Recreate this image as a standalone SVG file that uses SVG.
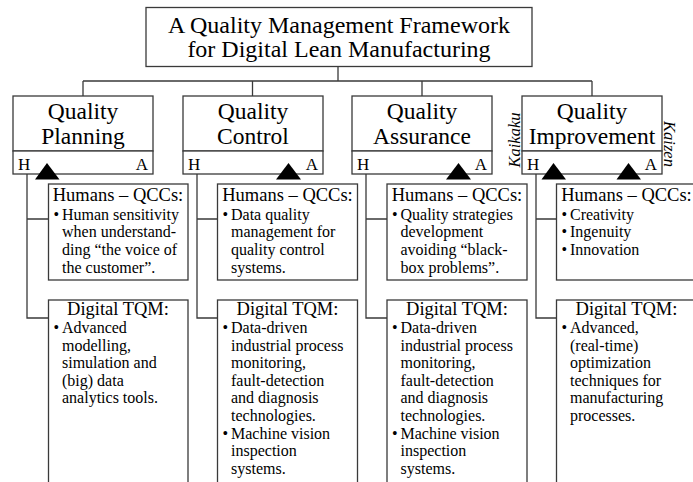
<svg xmlns="http://www.w3.org/2000/svg" width="693" height="482" viewBox="0 0 693 482">
<style>
  text { font-family: "Liberation Serif", "Times New Roman", serif; fill: #000; }
  .box { fill: #fff; stroke: #3a3a3a; stroke-width: 1.3; }
  .line { fill: none; stroke: #3a3a3a; stroke-width: 1.3; }
  .title { font-size: 24px; text-anchor: middle; }
  .pillar { font-size: 23.5px; text-anchor: middle; }
  .ha { font-size: 17px; }
  .hdr { font-size: 18.5px; text-anchor: middle; }
  .txt { font-size: 16px; }
  .it { font-size: 16.5px; font-style: italic; text-anchor: middle; }
  .tri { fill: #000; }
</style>

<g id="connectors">
  <path class="line" d="M338 67 V81 M83 81 H592 M83 81 V96 M252.5 81 V96 M422 81 V96 M592 81 V96"/>
  <path class="line" d="M27 174 V318 H48.5 M27 219 H48.5"/>
  <path class="line" d="M197 174 V318 H217.5 M197 219 H217.5"/>
  <path class="line" d="M366 174 V318 H387 M366 219 H387"/>
  <path class="line" d="M536 174 V318 H556.5 M536 219 H556.5"/>
</g>

<g id="title">
  <rect class="box" x="146" y="7.5" width="386" height="59"/>
  <text class="title" x="339" y="33">A Quality Management Framework</text>
  <text class="title" x="339" y="57">for Digital Lean Manufacturing</text>
</g>

<g id="planning">
  <rect class="box" x="13" y="96" width="140" height="55"/>
  <rect class="box" x="13" y="151" width="140" height="23"/>
  <text class="pillar" x="83" y="118.5">Quality</text>
  <text class="pillar" x="83" y="143.5">Planning</text>
  <text class="ha" x="18" y="170">H</text>
  <text class="ha" x="148" y="170" text-anchor="end">A</text>
  <polygon class="tri" points="47,163 35,179.5 59.5,179.5"/>
</g>

<g id="control">
  <rect class="box" x="183" y="96" width="140" height="55"/>
  <rect class="box" x="183" y="151" width="140" height="23"/>
  <text class="pillar" x="253" y="118.5">Quality</text>
  <text class="pillar" x="253" y="143.5">Control</text>
  <text class="ha" x="188" y="170">H</text>
  <text class="ha" x="318" y="170" text-anchor="end">A</text>
  <polygon class="tri" points="288.5,163 276,179.5 301,179.5"/>
</g>

<g id="assurance">
  <rect class="box" x="352" y="96" width="140" height="55"/>
  <rect class="box" x="352" y="151" width="140" height="23"/>
  <text class="pillar" x="422" y="118.5">Quality</text>
  <text class="pillar" x="422" y="143.5">Assurance</text>
  <text class="ha" x="357" y="170">H</text>
  <text class="ha" x="487" y="170" text-anchor="end">A</text>
  <polygon class="tri" points="458.5,163 446,179.5 471,179.5"/>
</g>

<g id="improvement">
  <rect class="box" x="522" y="96" width="140" height="55"/>
  <rect class="box" x="522" y="151" width="140" height="23"/>
  <text class="pillar" x="592" y="118.5">Quality</text>
  <text class="pillar" x="592" y="143.5">Improvement</text>
  <text class="ha" x="527" y="170">H</text>
  <text class="ha" x="657" y="170" text-anchor="end">A</text>
  <polygon class="tri" points="553.5,163 541.5,179.5 566,179.5"/>
  <polygon class="tri" points="628.5,163 616.5,179.5 641,179.5"/>
  <text class="it" transform="translate(520,140) rotate(-90)">Kaikaku</text>
  <text class="it" transform="translate(664,144) rotate(90)">Kaizen</text>
</g>

<g id="planning-humans">
  <rect class="box" x="48.5" y="184" width="139.5" height="96"/>
  <text class="hdr" x="118" y="201">Humans – QCCs:</text>
  <text class="txt" x="53.5" y="219.5">•</text>
  <text class="txt" x="62"><tspan x="62" y="219.5">Human sensitivity</tspan><tspan x="62" y="237.2">when understand-</tspan><tspan x="62" y="254.9">ding “the voice of</tspan><tspan x="62" y="272.6">the customer”.</tspan></text>
</g>

<g id="control-humans">
  <rect class="box" x="217.5" y="184" width="140" height="96"/>
  <text class="hdr" x="287.5" y="201">Humans – QCCs:</text>
  <text class="txt" x="222.5" y="219.5">•</text>
  <text class="txt" x="231"><tspan x="231" y="219.5">Data quality</tspan><tspan x="231" y="237.2">management for</tspan><tspan x="231" y="254.9">quality control</tspan><tspan x="231" y="272.6">systems.</tspan></text>
</g>

<g id="assurance-humans">
  <rect class="box" x="387" y="184" width="140" height="96"/>
  <text class="hdr" x="457" y="201">Humans – QCCs:</text>
  <text class="txt" x="392" y="219.5">•</text>
  <text class="txt" x="400.5"><tspan x="400.5" y="219.5">Quality strategies</tspan><tspan x="400.5" y="237.2">development</tspan><tspan x="400.5" y="254.9">avoiding “black-</tspan><tspan x="400.5" y="272.6">box problems”.</tspan></text>
</g>

<g id="improvement-humans">
  <rect class="box" x="556.5" y="184" width="140" height="96"/>
  <text class="hdr" x="626.5" y="201">Humans – QCCs:</text>
  <text class="txt" x="561.5" y="219.5">•</text>
  <text class="txt" x="570" y="219.5">Creativity</text>
  <text class="txt" x="561.5" y="237.2">•</text>
  <text class="txt" x="570" y="237.2">Ingenuity</text>
  <text class="txt" x="561.5" y="254.9">•</text>
  <text class="txt" x="570" y="254.9">Innovation</text>
</g>

<g id="planning-tqm">
  <rect class="box" x="48.5" y="300" width="139.5" height="200"/>
  <text class="hdr" x="118" y="314.5">Digital TQM:</text>
  <text class="txt" x="53.5" y="333">•</text>
  <text class="txt" x="62"><tspan x="62" y="333">Advanced</tspan><tspan x="62" y="350.6">modelling,</tspan><tspan x="62" y="368.2">simulation and</tspan><tspan x="62" y="385.8">(big) data</tspan><tspan x="62" y="403.4">analytics tools.</tspan></text>
</g>

<g id="control-tqm">
  <rect class="box" x="217.5" y="300" width="140" height="200"/>
  <text class="hdr" x="287.5" y="314.5">Digital TQM:</text>
  <text class="txt" x="222.5" y="333">•</text>
  <text class="txt" x="222.5" y="438.6">•</text>
  <text class="txt" x="231"><tspan x="231" y="333">Data-driven</tspan><tspan x="231" y="350.6">industrial process</tspan><tspan x="231" y="368.2">monitoring,</tspan><tspan x="231" y="385.8">fault-detection</tspan><tspan x="231" y="403.4">and diagnosis</tspan><tspan x="231" y="421">technologies.</tspan><tspan x="231" y="438.6">Machine vision</tspan><tspan x="231" y="456.2">inspection</tspan><tspan x="231" y="473.8">systems.</tspan></text>
</g>

<g id="assurance-tqm">
  <rect class="box" x="387" y="300" width="140" height="200"/>
  <text class="hdr" x="457" y="314.5">Digital TQM:</text>
  <text class="txt" x="392" y="333">•</text>
  <text class="txt" x="392" y="438.6">•</text>
  <text class="txt" x="400.5"><tspan x="400.5" y="333">Data-driven</tspan><tspan x="400.5" y="350.6">industrial process</tspan><tspan x="400.5" y="368.2">monitoring,</tspan><tspan x="400.5" y="385.8">fault-detection</tspan><tspan x="400.5" y="403.4">and diagnosis</tspan><tspan x="400.5" y="421">technologies.</tspan><tspan x="400.5" y="438.6">Machine vision</tspan><tspan x="400.5" y="456.2">inspection</tspan><tspan x="400.5" y="473.8">systems.</tspan></text>
</g>

<g id="improvement-tqm">
  <rect class="box" x="556.5" y="300" width="140" height="200"/>
  <text class="hdr" x="626.5" y="314.5">Digital TQM:</text>
  <text class="txt" x="561.5" y="333">•</text>
  <text class="txt" x="570"><tspan x="570" y="333">Advanced,</tspan><tspan x="570" y="350.6">(real-time)</tspan><tspan x="570" y="368.2">optimization</tspan><tspan x="570" y="385.8">techniques for</tspan><tspan x="570" y="403.4">manufacturing</tspan><tspan x="570" y="421">processes.</tspan></text>
</g>
</svg>
